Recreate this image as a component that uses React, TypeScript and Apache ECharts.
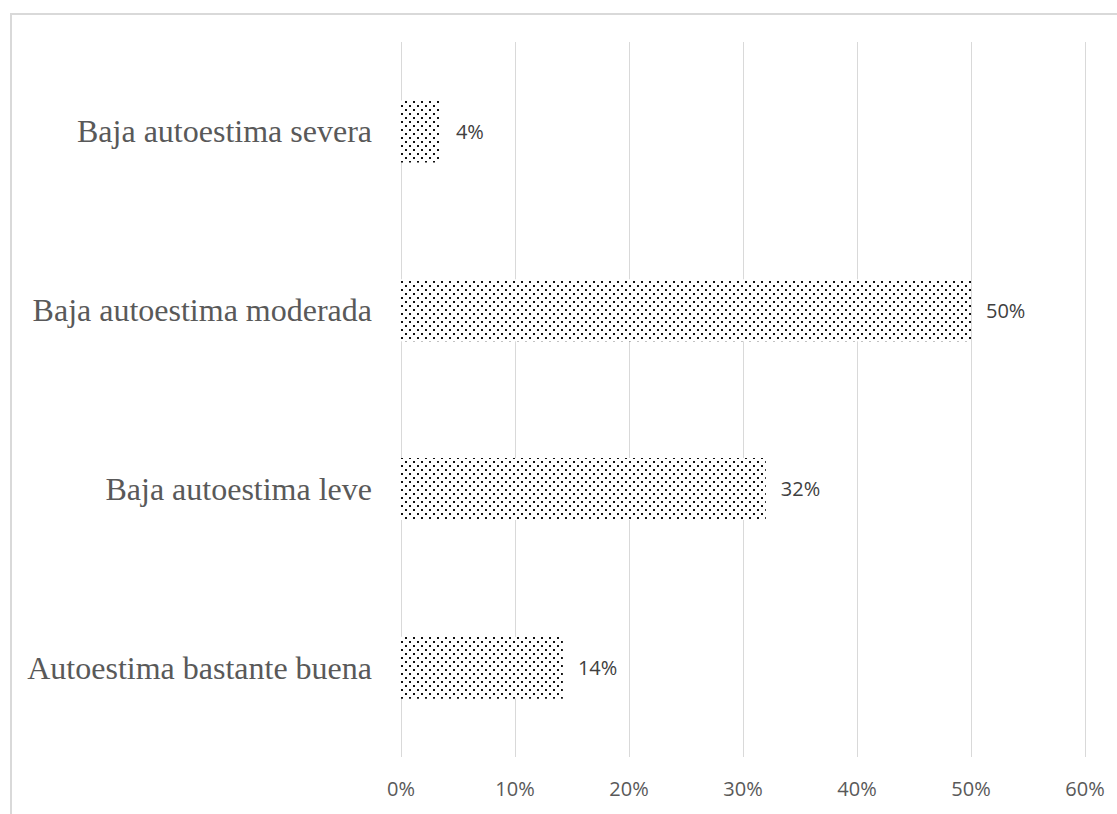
import React, { useEffect, useRef } from "react";
import * as echarts from "echarts";

const categories = [
  "Autoestima bastante buena",
  "Baja autoestima leve",
  "Baja autoestima moderada",
  "Baja autoestima severa",
];
const values = [14.2, 32, 50, 3.5];
const labels = ["14%", "32%", "50%", "4%"];
const xTicks = [0, 10, 20, 30, 40, 50, 60];

function makePattern(): HTMLCanvasElement {
  const c = document.createElement("canvas");
  c.width = 8;
  c.height = 8;
  const ctx = c.getContext("2d")!;
  ctx.fillStyle = "#ffffff";
  ctx.fillRect(0, 0, 8, 8);
  ctx.fillStyle = "#111111";
  ctx.fillRect(1, 1, 2, 2);
  ctx.fillRect(5, 5, 2, 2);
  return c;
}

export default function App() {
  const ref = useRef<HTMLDivElement>(null);
  useEffect(() => {
    if (!ref.current) return;
    const chart = echarts.init(ref.current, null, { renderer: "svg" });
    const pattern = makePattern();
    chart.setOption({
      animation: false,
      backgroundColor: "#ffffff",
      graphic: [
        {
          type: "rect",
          shape: { x: 11, y: 14, width: 1200, height: 900 },
          style: { fill: "none", stroke: "#d9d9d9", lineWidth: 2 },
          silent: true,
          z: 100,
        },
      ],
      grid: { left: 401, right: 32, top: 42, bottom: 57, containLabel: false },
      xAxis: {
        type: "value",
        min: xTicks[0],
        max: xTicks[xTicks.length - 1],
        interval: 10,
        axisLine: { show: false },
        axisTick: { show: false },
        splitLine: { show: true, lineStyle: { color: "#d9d9d9", width: 1 } },
        axisLabel: {
          formatter: (v: number) => `${v}%`,
          color: "#595959",
          fontSize: 20,
          fontFamily: "Open Sans",
          margin: 21,
        },
      },
      yAxis: {
        type: "category",
        data: categories,
        axisLine: { show: false },
        axisTick: { show: false },
        splitLine: { show: false },
        axisLabel: {
          color: "#595959",
          fontSize: 32,
          fontFamily: "Liberation Serif",
          margin: 29,
        },
      },
      series: [
        {
          type: "bar",
          data: values,
          barWidth: 62,
          itemStyle: {
            color: { image: pattern, repeat: "repeat" },
          },
          label: {
            show: true,
            position: "right",
            distance: 15,
            formatter: (p: any) => labels[p.dataIndex],
            color: "#404040",
            fontSize: 20,
            fontFamily: "Open Sans",
          },
        },
      ],
    });
    return () => chart.dispose();
  }, []);
  return (
    <div
      ref={ref}
      style={{ position: "fixed", left: 0, top: 0, width: 1117, height: 814 }}
    />
  );
}
